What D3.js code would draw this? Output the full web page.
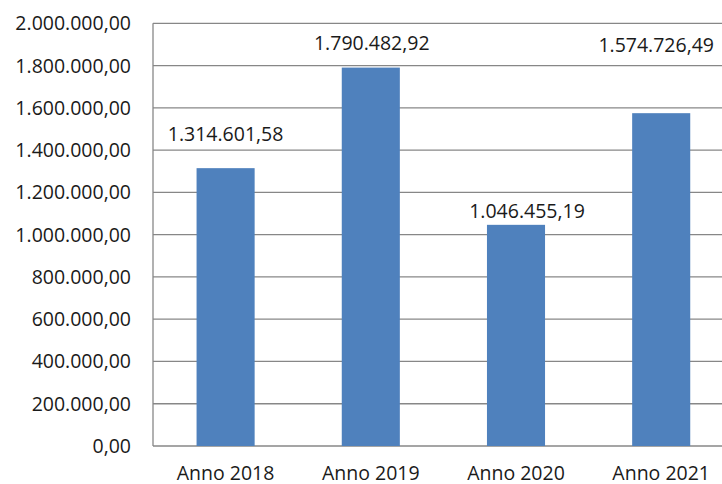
<!DOCTYPE html>
<html>
<head>
<meta charset="utf-8">
<script src="https://cdn.jsdelivr.net/npm/d3@7"></script>
<style>
  body { margin: 0; background: #fff; }
  svg { display: block; }
  text { font-family: "Open Sans", "Liberation Sans", sans-serif; fill: #1a1a1a; }
</style>
</head>
<body>
<div id="chart"></div>
<script>
// dati
var categories = ["Anno 2018", "Anno 2019", "Anno 2020", "Anno 2021"];
var values = [1314601.58, 1790482.92, 1046455.19, 1574726.49];
var tickValues = [0, 200000, 400000, 600000, 800000, 1000000, 1200000, 1400000, 1600000, 1800000, 2000000];

// spostamento manuale delle etichette (come in Excel)
var labelDx = [0, 1, 11, -5];
var labelDy = [-27.5, -17.5, -6.5, -61];

var W = 722, H = 484;
var plotLeft = 153, plotBase = 446, plotTop = 23.3;
var step = 145.2;
var fontSize = "19.5px";

var fmt = d3.formatLocale({decimal: ",", thousands: ".", grouping: [3], currency: ["", "€"]}).format(",.2f");

var svg = d3.select("#chart").append("svg")
    .attr("width", W)
    .attr("height", H);

var x = d3.scaleBand()
    .domain(categories)
    .range([plotLeft, plotLeft + step * categories.length])
    .paddingInner(0.6)
    .paddingOuter(0.3);

var y = d3.scaleLinear()
    .domain([0, 2000000])
    .range([plotBase, plotTop]);

// griglia
svg.append("g").selectAll("line")
    .data(tickValues)
    .join("line")
    .attr("x1", plotLeft)
    .attr("x2", plotLeft + step * categories.length)
    .attr("y1", function (d) { return y(d); })
    .attr("y2", function (d) { return y(d); })
    .attr("stroke", "#878787")
    .attr("stroke-width", 1.3);

// asse y
svg.append("line")
    .attr("x1", plotLeft).attr("x2", plotLeft)
    .attr("y1", y(2000000)).attr("y2", plotBase)
    .attr("stroke", "#878787")
    .attr("stroke-width", 1.3);

svg.append("g").selectAll("text")
    .data(tickValues)
    .join("text")
    .attr("x", 131)
    .attr("y", function (d) { return y(d); })
    .attr("dy", "0.36em")
    .attr("text-anchor", "end")
    .style("font-size", fontSize)
    .text(function (d) { return fmt(d); });

// barre
svg.append("g").selectAll("rect")
    .data(values)
    .join("rect")
    .attr("x", function (d, i) { return x(categories[i]); })
    .attr("y", function (d) { return y(d); })
    .attr("width", x.bandwidth())
    .attr("height", function (d) { return plotBase - y(d); })
    .attr("fill", "#4f81bd");

// etichette dati
svg.append("g").selectAll("text")
    .data(values)
    .join("text")
    .attr("x", function (d, i) { return x(categories[i]) + x.bandwidth() / 2 + labelDx[i]; })
    .attr("y", function (d, i) { return y(d) + labelDy[i]; })
    .attr("text-anchor", "middle")
    .style("font-size", fontSize)
    .text(function (d) { return fmt(d); });

// etichette categorie
svg.append("g").selectAll("text")
    .data(categories)
    .join("text")
    .attr("x", function (d) { return x(d) + x.bandwidth() / 2; })
    .attr("y", 479.5)
    .attr("text-anchor", "middle")
    .style("font-size", fontSize)
    .text(function (d) { return d; });
</script>
</body>
</html>
